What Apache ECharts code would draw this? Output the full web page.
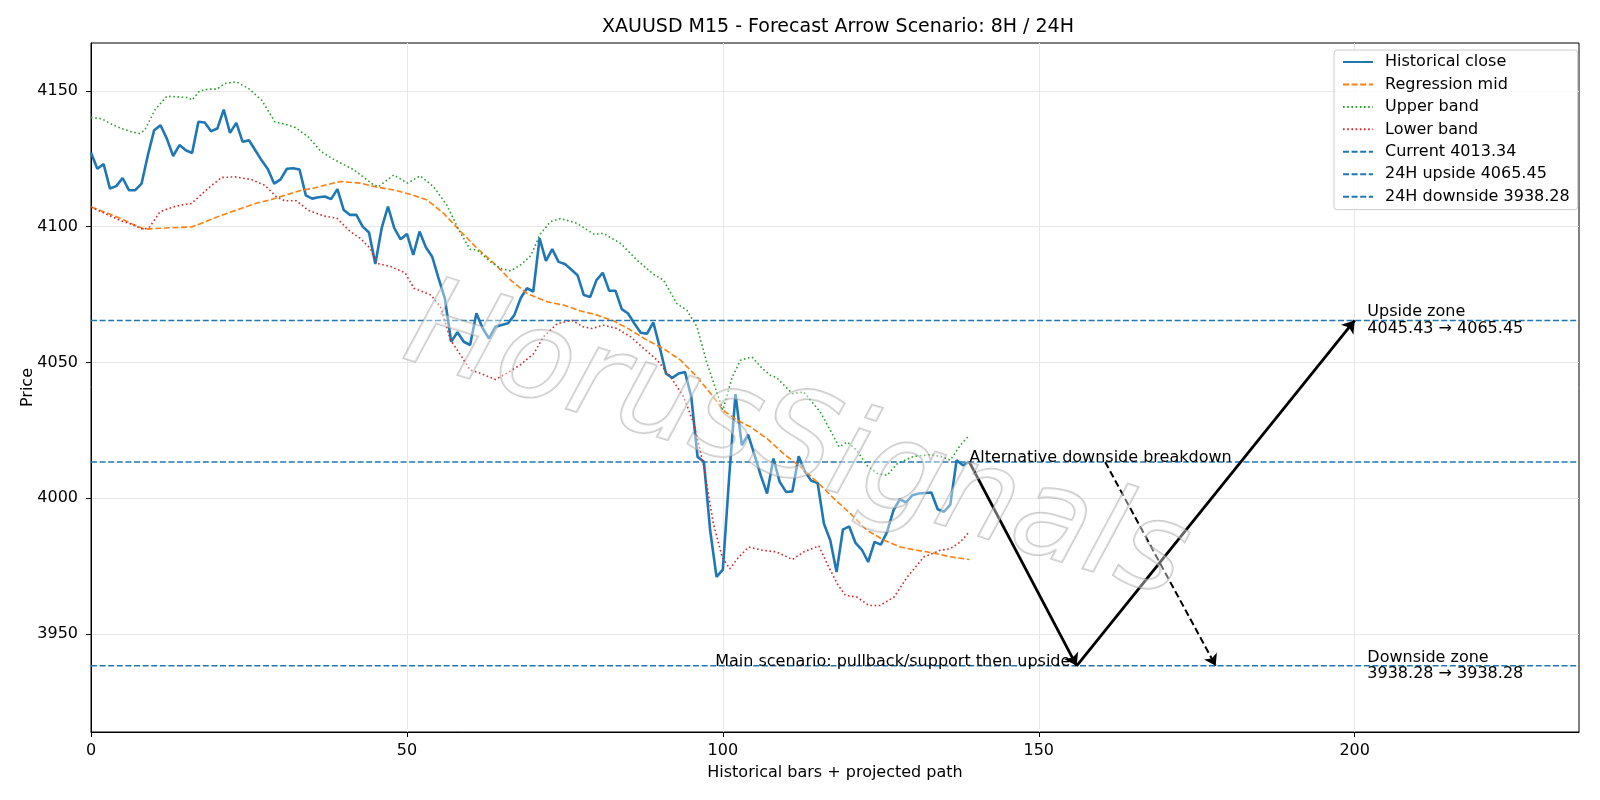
<!DOCTYPE html>
<html>
<head>
<meta charset="utf-8">
<title>XAUUSD M15 - Forecast Arrow Scenario</title>
<script src="https://cdn.jsdelivr.net/npm/echarts@6/dist/echarts.min.js"></script>
<style>
  html, body { margin: 0; padding: 0; background: #fff; }
  #chart { width: 1600px; height: 800px; }
</style>
</head>
<body>
<div id="chart"></div>
<script>
// historical closes, one per M15 bar (x = 0..139)
const closePrices = [
  4127.2, 4121.3, 4123.0, 4114.0, 4114.9, 4117.9, 4113.4, 4113.4, 4115.8, 4126.3,
  4135.5, 4137.3, 4132.4, 4126.0, 4130.0, 4128.1, 4127.1, 4138.6, 4138.3, 4135.1,
  4136.1, 4143.1, 4134.5, 4138.2, 4131.2, 4131.8, 4128.1, 4124.4, 4121.1, 4115.8,
  4117.4, 4121.3, 4121.5, 4121.0, 4111.5, 4110.3, 4110.8, 4111.1, 4110.1, 4113.8,
  4106.1, 4104.3, 4104.3, 4100.0, 4097.8, 4086.2, 4099.4, 4107.4, 4099.4, 4095.3,
  4097.3, 4089.6, 4098.2, 4092.4, 4088.9, 4081.0, 4073.6, 4057.6, 4061.1, 4057.6,
  4056.4, 4068.1, 4062.5, 4058.8, 4063.1, 4063.8, 4064.4, 4067.4, 4073.6, 4077.3,
  4076.1, 4095.7, 4087.4, 4091.7, 4087.0, 4086.2, 4084.2, 4082.1, 4074.8, 4074.1,
  4080.3, 4083.0, 4076.4, 4076.4, 4069.6, 4068.0, 4064.3, 4060.9, 4060.6, 4064.7,
  4055.7, 4045.9, 4044.3, 4045.9, 4046.5, 4037.3, 4015.2, 4013.4, 3988.0, 3971.0,
  3973.7, 4007.8, 4038.3, 4019.5, 4023.4, 4016.0, 4008.4, 4001.7, 4014.6, 4006.0,
  4002.3, 4002.5, 4015.4, 4009.7, 4006.4, 4005.6, 3990.6, 3984.5, 3972.8, 3988.4,
  3989.6, 3983.5, 3981.0, 3976.5, 3983.9, 3982.9, 3987.6, 3995.5, 3999.6, 3998.4,
  4001.1, 4001.7, 4001.9, 4002.1, 3995.9, 3995.0, 3997.6, 4014.0, 4012.1, 4013.34
]

// [bar, price] samples of the regression channel
const regressionMid = [
  [0, 4107.2], [2, 4105.5], [5, 4102.7], [6.5, 4101.0], [8.5, 4099.0], [10, 4099.3], [13, 4099.6],
  [16, 4099.9], [18, 4101.7], [20.7, 4104.2], [23.3, 4106.3], [26, 4108.5], [28.6, 4110.0],
  [31.2, 4111.9], [33.3, 4113.4], [35, 4114.0], [37.3, 4115.4], [39.5, 4116.6], [42.6, 4116.0],
  [45.3, 4114.5], [47.9, 4113.5], [50.5, 4111.9], [53.2, 4109.8], [55.8, 4104.9], [58.5, 4098.2],
  [61.1, 4092.0], [63.8, 4086.5], [66.4, 4080.3], [69, 4075.4], [72.2, 4072.3], [74.8, 4071.1],
  [77.4, 4069.0], [80.1, 4067.4], [82.7, 4065.3], [85.4, 4061.9], [88, 4058.2], [90.6, 4055.1],
  [93.3, 4050.8], [95.9, 4044.7], [98.5, 4037.3], [100, 4032.4], [102.3, 4028.7], [104.4, 4026.2],
  [107, 4021.9], [109.6, 4016.4], [112.3, 4011.5], [114.9, 4006.0], [117.6, 3999.8], [120.2, 3994.3],
  [122.8, 3988.2], [125.5, 3984.5], [128.1, 3982.0], [130.7, 3980.8], [133.4, 3979.8], [136, 3978.4],
  [139, 3977.4]
]

const upperBand = [
  [0, 4140.2], [1.7, 4139.7], [3.3, 4137.7], [4.8, 4136.1], [6.4, 4134.9], [7.7, 4134.3], [8.5, 4135.5],
  [10.1, 4142.9], [12, 4148.0], [13.3, 4147.8], [15.4, 4147.5], [16, 4146.6], [17.2, 4150.0],
  [18.6, 4150.6], [19.9, 4150.6], [21.2, 4152.7], [23, 4153.3], [24.9, 4150.9], [27, 4146.6],
  [29.1, 4138.6], [30.7, 4137.7], [32.3, 4136.5], [34.4, 4133.0], [36.3, 4127.9], [38.2, 4125.0],
  [41.6, 4120.9], [44.7, 4115.4], [45.5, 4114.7], [47.9, 4119.0], [50.1, 4116.0], [52.1, 4118.7],
  [54.2, 4114.7], [56.3, 4108.0], [58.2, 4098.8], [60, 4091.6], [61.1, 4091.4], [63.2, 4087.1],
  [64.8, 4084.6], [66.4, 4083.7], [68, 4085.9], [69.6, 4089.3], [71.1, 4097.2], [72.7, 4101.8],
  [74.3, 4103.0], [76.9, 4101.2], [79.6, 4097.2], [81.1, 4097.5], [83.8, 4093.8], [86.4, 4087.7],
  [89, 4082.5], [90.6, 4080.3], [92.7, 4071.7], [94.3, 4069.2], [95.9, 4063.1], [97.5, 4049.6],
  [100, 4032.4], [101.5, 4044.7], [102.8, 4050.8], [104.6, 4052.0], [106.3, 4047.6], [107.5, 4045.3],
  [108.5, 4044.4], [111, 4038.5], [112.8, 4039.1], [115.4, 4031.8], [117, 4025.0], [118.4, 4018.9],
  [119.7, 4020.7], [121.2, 4017.6], [122.8, 4012.1], [124.4, 4009.1], [126, 4008.4], [127.6, 4012.7],
  [130.2, 4015.4], [132.9, 4016.0], [134.7, 4015.2], [136, 4014.0], [137.6, 4019.5], [139, 4023.2]
]

const lowerBand = [
  [0, 4107.2], [2.2, 4104.8], [4.8, 4102.1], [6.4, 4100.9], [8.3, 4098.9], [9.3, 4099.9], [10.9, 4105.4],
  [12.2, 4106.6], [14.1, 4107.9], [15.9, 4108.5], [17.5, 4111.9], [19.1, 4115.2], [20.7, 4118.1],
  [22.8, 4118.3], [25.4, 4117.3], [27.5, 4115.2], [29.4, 4110.9], [30.7, 4109.5], [32.5, 4109.5],
  [34.4, 4106.0], [36.8, 4103.9], [38.9, 4103.1], [41, 4098.2], [42.6, 4095.7], [44.2, 4092.0],
  [45.2, 4086.5], [47.4, 4085.3], [49.7, 4083.0], [51.1, 4077.3], [53.8, 4074.8], [55.3, 4070.5],
  [56.9, 4058.2], [58.5, 4052.7], [60, 4047.2], [61.6, 4046.0], [64, 4043.7], [65.8, 4046.0],
  [67.9, 4049.0], [70.1, 4053.3], [71.6, 4059.4], [73.8, 4064.3], [76.1, 4065.5], [77.9, 4063.1],
  [79.3, 4062.5], [81.1, 4063.7], [83.2, 4062.5], [85.4, 4059.4], [87.5, 4055.1], [89.6, 4050.8],
  [91.7, 4044.7], [93.8, 4037.3], [95.4, 4027.5], [97, 4011.5], [98.5, 3990.6], [99.9, 3978.3],
  [101.1, 3974.0], [102.5, 3978.3], [104.1, 3982.0], [106.3, 3980.8], [108.5, 3980.2], [111, 3977.4],
  [112.8, 3980.2], [115.2, 3982.4], [116.5, 3975.9], [118.1, 3968.5], [119.4, 3964.2], [121.2, 3963.6],
  [123.1, 3960.5], [124.9, 3960.5], [127.1, 3963.6], [129.2, 3971.0], [131.8, 3978.3], [134.4, 3980.8],
  [136, 3981.4], [137.6, 3983.9], [139, 3987.6]
]

const currentPrice = 4013.34
const upsideTarget = 4065.45
const upsideZoneLow = 4045.43
const downsideTarget = 3938.28

// projected path: main scenario legs and the alternative breakdown
const mainPath = [[139, currentPrice], [156, downsideTarget], [200, upsideTarget]]
const altPath = [[160.5, currentPrice], [178, downsideTarget]]

const xTicks = [0, 50, 100, 150, 200]
const yTicks = [3950, 4000, 4050, 4100, 4150]
const X_MIN = 0
const X_MAX = 235.5
const Y_MIN = 3913.9
const Y_MAX = 4167.6

const WATERMARK = 'HorusSignals'

const BLUE = '#1f77b4'
const FONT = 'DejaVu Sans'
const FS = 16

const levelLine = (name, value) => ({
  name,
  type: 'line',
  data: [[X_MIN, value], [X_MAX, value]],
  symbol: 'none',
  silent: true,
  lineStyle: { color: BLUE, width: 1.5, type: [6, 2.6] },
  itemStyle: { color: BLUE },
})

const legendNames = [
  'Historical close', 'Regression mid', 'Upper band', 'Lower band',
  `Current ${currentPrice.toFixed(2)}`,
  `24H upside ${upsideTarget.toFixed(2)}`,
  `24H downside ${downsideTarget.toFixed(2)}`,
]

const notes = [
  { value: [139, currentPrice], text: 'Alternative downside breakdown', align: 'left', vAlign: 'bottom', dy: 4 },
  { value: [155, downsideTarget], text: 'Main scenario: pullback/support then upside', align: 'right', vAlign: 'middle', dy: -4 },
  { value: [202, upsideTarget], text: `Upside zone\n${upsideZoneLow.toFixed(2)} → ${upsideTarget.toFixed(2)}`, align: 'left', vAlign: 'middle', dy: 0 },
  { value: [202, downsideTarget], text: `Downside zone\n${downsideTarget.toFixed(2)} → ${downsideTarget.toFixed(2)}`, align: 'left', vAlign: 'middle', dy: 0 },
]

const chart = echarts.init(document.getElementById('chart'), null, { renderer: 'canvas' })

const watermark = {
  type: 'text',
  x: 796,
  y: 446,
  rotation: -0.3,
  z: 100,
  silent: true,
  style: {
    text: WATERMARK,
    fontFamily: FONT,
    fontStyle: 'italic',
    fontSize: 124,
    textAlign: 'center',
    textVerticalAlign: 'middle',
    fill: 'rgba(255,255,255,0.4)',
    stroke: 'rgba(150,150,150,0.5)',
    lineWidth: 2,
  },
}

const option = {
  animation: false,
  backgroundColor: '#fff',
  textStyle: { fontFamily: FONT, color: '#000' },
  title: {
    text: 'XAUUSD M15 - Forecast Arrow Scenario: 8H / 24H',
    left: 833,
    top: 13,
    textAlign: 'center',
    textStyle: { fontFamily: FONT, fontSize: 19, fontWeight: 'normal', color: '#000' },
  },
  grid: {
    left: 91, right: 21, top: 43, bottom: 68,
    show: true, borderColor: '#000', borderWidth: 1,
  },
  legend: {
    data: legendNames,
    orient: 'vertical',
    left: 1334,
    top: 50,
    itemWidth: 30,
    itemHeight: 16,
    itemGap: 6.45,
    padding: [4, 8, 5, 8],
    backgroundColor: 'rgba(255,255,255,0.8)',
    borderColor: '#cccccc',
    borderWidth: 1,
    borderRadius: 3,
    itemStyle: { opacity: 0 },
    textStyle: { fontFamily: FONT, fontSize: FS, lineHeight: 16, color: '#000', padding: [0, 0, 0, 7] },
  },
  xAxis: {
    type: 'value',
    min: X_MIN,
    max: X_MAX,
    name: 'Historical bars + projected path',
    nameLocation: 'middle',
    nameGap: 33,
    nameMoveOverlap: false,
    nameTextStyle: { fontFamily: FONT, fontSize: FS, color: '#000' },
    axisLine: { show: true, lineStyle: { color: '#000', width: 1 } },
    axisTick: { show: true, length: 5, lineStyle: { color: '#000' }, customValues: xTicks },
    axisLabel: { color: '#000', fontSize: FS, margin: 11, customValues: xTicks, formatter: (v) => String(v) },
    splitLine: { show: true, lineStyle: { color: '#e8e8e8', width: 1 } },
  },
  yAxis: {
    type: 'value',
    min: Y_MIN,
    max: Y_MAX,
    name: 'Price',
    nameLocation: 'middle',
    nameGap: 55,
    nameMoveOverlap: false,
    nameTextStyle: { fontFamily: FONT, fontSize: FS, color: '#000' },
    axisLine: { show: true, lineStyle: { color: '#000', width: 1 } },
    axisTick: { show: true, length: 5, lineStyle: { color: '#000' }, customValues: yTicks },
    axisLabel: { color: '#000', fontSize: FS, margin: 13, customValues: yTicks, formatter: (v) => String(v) },
    splitLine: { show: true, lineStyle: { color: '#e8e8e8', width: 1 } },
  },
  series: [
    {
      name: 'Historical close',
      type: 'line',
      data: closePrices.map((v, i) => [i, v]),
      symbol: 'none',
      lineStyle: { color: BLUE, width: 2.6 },
      itemStyle: { color: BLUE },
    },
    {
      name: 'Regression mid',
      type: 'line',
      data: regressionMid,
      symbol: 'none',
      lineStyle: { color: '#ff7f0e', width: 1.6, type: [6, 2.6] },
      itemStyle: { color: '#ff7f0e' },
    },
    {
      name: 'Upper band',
      type: 'line',
      data: upperBand,
      symbol: 'none',
      lineStyle: { color: '#2ca02c', width: 1.6, type: [1.6, 2.6] },
      itemStyle: { color: '#2ca02c' },
    },
    {
      name: 'Lower band',
      type: 'line',
      data: lowerBand,
      symbol: 'none',
      lineStyle: { color: '#d62728', width: 1.6, type: [1.6, 2.6] },
      itemStyle: { color: '#d62728' },
    },
    levelLine(legendNames[4], currentPrice),
    levelLine(legendNames[5], upsideTarget),
    levelLine(legendNames[6], downsideTarget),
    {
      name: 'main path',
      type: 'lines',
      coordinateSystem: 'cartesian2d',
      silent: true,
      symbol: ['none', 'arrow'],
      symbolSize: 12,
      lineStyle: { color: '#000', width: 2.8, opacity: 1, curveness: 0 },
      data: mainPath.slice(1).map((p, i) => ({ coords: [mainPath[i], p] })),
      z: 5,
    },
    {
      name: 'alt path',
      type: 'lines',
      coordinateSystem: 'cartesian2d',
      silent: true,
      symbol: ['none', 'arrow'],
      symbolSize: 11,
      lineStyle: { color: '#000', width: 2, opacity: 1, type: [7, 3.5], curveness: 0 },
      data: [{ coords: altPath }],
      z: 5,
    },
  ],
  graphic: [watermark],
}

chart.setOption(option)

// annotation texts placed at data coordinates through the chart's own scales
const noteGraphics = notes.map((n) => {
  const [px, py] = chart.convertToPixel({ gridIndex: 0 }, n.value)
  return {
    type: 'text',
    x: px,
    y: py + n.dy,
    z: 60,
    silent: true,
    style: {
      text: n.text,
      fontFamily: FONT,
      fontSize: FS,
      lineHeight: 16.5,
      textAlign: n.align,
      textVerticalAlign: n.vAlign,
      fill: '#000',
    },
  }
})

chart.setOption({ graphic: [watermark, ...noteGraphics] })
</script>
</body>
</html>
